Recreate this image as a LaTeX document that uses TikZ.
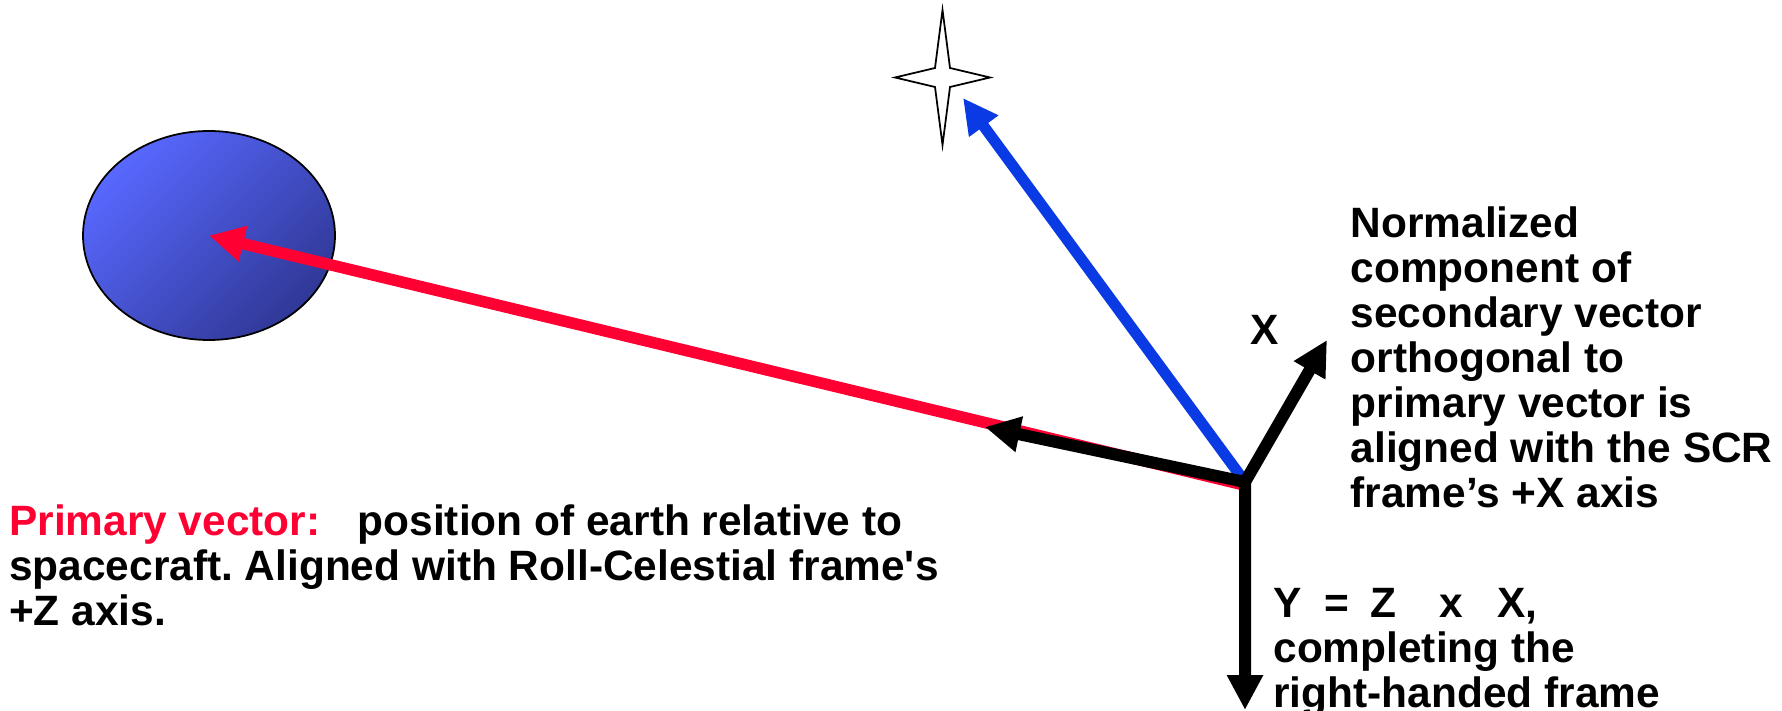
\documentclass[tikz,border=0pt]{standalone}
\usepackage{fontspec}
\setmainfont{Liberation Sans}
\usetikzlibrary{arrows.meta, shapes.geometric}
\definecolor{vecred}{RGB}{255,0,51}
\definecolor{vecblue}{RGB}{10,58,228}
\definecolor{earthlight}{RGB}{88,104,255}
\definecolor{earthdark}{RGB}{48,56,150}
\frenchspacing
\tikzset{
  >={Triangle[length=3.5mm, width=3.4mm]}, % big filled heads
  vector/.style={->, line width=1.15mm}, % the thick arrows
  axis/.style={vector, line width=1.2mm, black}, % the SCR frame
  % all text is bold sans
  every node/.style={inner sep=0pt, font=\bfseries\fontsize{12.07}{12.8}\selectfont},
}

\begin{document}
\begin{tikzpicture}[note/.style={anchor=base west, align=left}]
    \useasboundingbox (0,0) rectangle (17.82,7.10);

    \coordinate (origin) at (12.45,2.28);
    \coordinate (redfoot) at (12.44,2.25);
    \coordinate (xtip) at (13.27,3.70);
    \coordinate (ytip) at (12.45,0);
    \coordinate (ztip) at (9.85,2.83);
    \coordinate (startip) at (9.63,6.12);
    \coordinate (star) at (9.425,6.325);

    \node[ellipse, draw, line width=0.5pt, top color=earthlight,
      bottom color=earthdark, shading angle=45, minimum width=2.52cm,
      minimum height=2.09cm] (earth) at (2.09,4.745) {};

    % the star
    \draw[line width=0.5pt, fill=white, shift={(star)}]
      (0,0.675) -- (0.075,0.095) -- (0.475,0) -- (0.075,-0.095)
      -- (0,-0.675) -- (-0.075,-0.095) -- (-0.475,0) -- (-0.075,0.095)
      -- cycle;

    \draw[vector, vecred] (redfoot) -- (earth.center);
    \draw[vector, vecblue, line width=1.1mm] (origin) -- (startip);
    \draw[axis, <->] (ztip) -- (origin) -- (ytip);
    \draw[axis] (origin) -- (xtip);

    % anchors sit on the last baseline of each block
    \node[anchor=base] (xlabel) at (12.645,3.65) {X};
    \node[note] (primary) at (0.085,0.85) {\textcolor{vecred}{Primary
      vector:}\hspace{0.88em}position of earth relative to\\spacecraft.
      Aligned with Roll-Celestial frame\textquotesingle s\\+Z axis.};
    \node[note] (normal) at (13.50,2.03) {Normalized\\component
      of\\secondary vector\\orthogonal to\\primary vector is\\aligned
      with the SCR\\frame’s +X axis};
    \node[note] (ylabel) at (12.727,0.03) {Y\hspace{0.54em}=\hspace{0.49em}Z%
      \hspace{1.02em}x\hspace{0.81em}X,\\completing the\\right-handed frame};
\end{tikzpicture}
\end{document}
